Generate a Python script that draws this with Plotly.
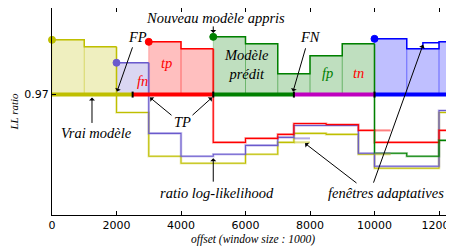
import plotly.graph_objects as go

OLIVE = '#bfbf00'; SLATE = '#6a5acd'; RED = '#ff0000'; GREEN = '#008000'
BLUE = '#0000ff'; MAGENTA = '#bf00bf'

baseline = 0.97
x_ticks = [0, 2000, 4000, 6000, 8000, 10000, 12000]
x_tick_labels = ["0", "2000", "4000", "6000", "8000", "10000", "12000"]
y_ticks = [0.97]
y_tick_labels = ["0.97"]

# windows where each model is predicted (above the baseline)
m1_top_edges = [0, 1000, 2000];                       m1_top_vals = [1.025, 1.018]
m2_top_edges = [2000, 3000];                          m2_top_vals = [1.002]
m3_top_edges = [3000, 4000, 5000];                    m3_top_vals = [1.023, 1.016]
m4_top_edges = [5000, 6000, 7000, 8000, 9000, 10000]; m4_top_vals = [1.028, 1.021, 0.991, 1.009, 1.021]
m5_top_edges = [10000, 11000, 12000, 12500];          m5_top_vals = [1.026, 1.016, 1.023]

# log-likelihood ratio once the model is no longer predicted
m1_low_edges = [2000, 3000, 4000, 6000, 7000, 7500, 8500, 9500, 10000, 12000, 12500]
m1_low_vals = [0.952, 0.908, 0.901, 0.910, 0.922, 0.931, 0.930, 0.910, 0.896, 0.952]
m2_low_edges = [3000, 4000, 5000, 6000, 7000, 7500, 9500, 10000, 12000, 12500]
m2_low_vals = [0.931, 0.908, 0.910, 0.919, 0.927, 0.939, 0.911, 0.898, 0.954]
m3_low_edges = [5000, 6000, 7000, 7500, 8500, 9500, 10000, 12000, 12500]
m3_low_vals = [0.922, 0.926, 0.930, 0.941, 0.940, 0.934, 0.922, 0.934]
m4_low_edges = [10000, 11000, 12000, 12500]
m4_low_vals = [0.911, 0.908, 0.924]

# adaptive windows (short segments)
adaptive_colors = [OLIVE, SLATE, SLATE, OLIVE, RED]
adaptive_start = [7500, 7500, 10000, 10000, 10000]
adaptive_end = [8000, 8000, 10500, 10500, 10500]
adaptive_vals = [0.922, 0.926, 0.911, 0.910, 0.934]
notch_edges = [11500, 12000]; notch_val = 1.022; notch_base = 1.016

# predicted segments on the baseline
seg_edges = [0, 2500, 5000, 7500, 10000, 12500]
seg_colors = [OLIVE, RED, GREEN, MAGENTA, BLUE]

models = [
    (OLIVE, m1_top_edges, m1_top_vals, m1_low_edges, m1_low_vals),
    (SLATE, m2_top_edges, m2_top_vals, m2_low_edges, m2_low_vals),
    (RED, m3_top_edges, m3_top_vals, m3_low_edges, m3_low_vals),
    (GREEN, m4_top_edges, m4_top_vals, m4_low_edges, m4_low_vals),
    (BLUE, m5_top_edges, m5_top_vals, [], []),
]


def rgba(hexc, a):
    h = hexc.lstrip('#')
    return 'rgba(%d,%d,%d,%s)' % (int(h[0:2], 16), int(h[2:4], 16), int(h[4:6], 16), a)


def step_xy(edges, vals):
    xs, ys = [], []
    for i, v in enumerate(vals):
        xs += [edges[i], edges[i + 1]]
        ys += [v, v]
    return xs, ys


fig = go.Figure()

# fills of predicted windows
for col, te, tv, le, lv in models:
    for i, v in enumerate(tv):
        x0, x1 = te[i], te[i + 1]
        fig.add_trace(go.Scatter(x=[x0, x0, x1, x1, x0], y=[baseline, v, v, baseline, baseline],
                                 mode='lines', fill='toself', fillcolor=rgba(col, 0.25),
                                 line=dict(color=rgba(col, 0.25), width=1), hoverinfo='skip'))

# notch (adaptive window in the current model)
fig.add_trace(go.Scatter(x=[notch_edges[0], notch_edges[0], notch_edges[1], notch_edges[1], notch_edges[0]],
                         y=[notch_base, notch_val, notch_val, notch_base, notch_base],
                         mode='lines', fill='toself', fillcolor='white',
                         line=dict(color='rgba(0,0,0,0)', width=0), hoverinfo='skip'))
fig.add_trace(go.Scatter(x=[notch_edges[0], notch_edges[0], notch_edges[1]],
                         y=[notch_base, notch_val, notch_val], mode='lines',
                         line=dict(color=BLUE, width=1.5), hoverinfo='skip'))

# lines
for col, te, tv, le, lv in models:
    edges = te + le[1:]
    vals = tv + lv
    xs, ys = step_xy(edges, vals)
    n_top = 2 * len(tv)
    if lv:
        fig.add_trace(go.Scatter(x=xs[n_top - 1:], y=ys[n_top - 1:], mode='lines',
                                 line=dict(color=rgba(col, 0.3), width=2.6), hoverinfo='skip'))
        fig.add_trace(go.Scatter(x=xs[n_top - 1:], y=ys[n_top - 1:], mode='lines',
                                 line=dict(color=col, width=1.1), hoverinfo='skip'))
    fig.add_trace(go.Scatter(x=xs[:n_top], y=ys[:n_top], mode='lines',
                             line=dict(color=col, width=1.5), hoverinfo='skip'))

for c, s, e, v in zip(adaptive_colors, adaptive_start, adaptive_end, adaptive_vals):
    fig.add_trace(go.Scatter(x=[s, e], y=[v, v], mode='lines',
                             line=dict(color=rgba(c, 0.5), width=2), hoverinfo='skip'))

# baseline coloured by predicted model
for i, c in enumerate(seg_colors):
    fig.add_trace(go.Scatter(x=[seg_edges[i], seg_edges[i + 1]], y=[baseline, baseline], mode='lines',
                             line=dict(color=c, width=4), hoverinfo='skip'))
for xb in seg_edges[1:-1]:
    fig.add_trace(go.Scatter(x=[xb, xb], y=[baseline - 0.003, baseline + 0.003], mode='lines',
                             line=dict(color='black', width=2), hoverinfo='skip'))

# markers where models are learnt
for col, te, tv, le, lv in models:
    fig.add_trace(go.Scatter(x=[te[0]], y=[tv[0]], mode='markers',
                             marker=dict(color=col, size=7, line=dict(color=col, width=1)),
                             hoverinfo='skip', cliponaxis=False))

SERIF = 'Liberation Serif'

texts = [
    ("<i>Nouveau modèle appris</i>", 5085, 1.047, 'black'),
    ("<i>FP</i>", 2636, 1.028, 'black'),
    ("<i>FN</i>", 8000, 1.028, 'black'),
    ("<i>Modèle<br>prédit</i>", 6016, 1.000, 'black'),
    ("<i>Vrai modèle</i>", 1395, 0.931, 'black'),
    ("<i>TP</i>", 4031, 0.942, 'black'),
    ("<i>ratio log-likelihood</i>", 5116, 0.871, 'black'),
    ("<i>fenêtres adaptatives</i>", 10357, 0.871, 'black'),
    ("<i>fn</i>", 2791, 0.984, RED),
    ("<i>tp</i>", 3535, 1.002, RED),
    ("<i>fp</i>", 8527, 0.992, GREEN),
    ("<i>tn</i>", 9519, 0.992, RED),
]
for t, x, y, c in texts:
    fig.add_annotation(x=x, y=y, text=t, showarrow=False,
                       font=dict(family=SERIF, size=14.5, color=c), xref='x', yref='y')

arrows = [
    (5000, 1.032, 5000, 1.040),
    (2016, 0.973, 2512, 1.019),
    (7473, 0.973, 7876, 1.018),
    (1240, 0.967, 1240, 0.940),
    (3039, 0.967, 3752, 0.948),
    (4961, 0.967, 4310, 0.948),
    (5000, 0.906, 5000, 0.881),
    (7845, 0.921, 9488, 0.880),
    (11504, 1.020, 9953, 0.880),
]
for x, y, ax, ay in arrows:
    fig.add_annotation(x=x, y=y, ax=ax, ay=ay, xref='x', yref='y', axref='x', ayref='y',
                       text='', showarrow=True, arrowhead=1, arrowsize=1, arrowwidth=1,
                       arrowcolor='black', standoff=0, startstandoff=0)

# page body keeps an 8px margin, so the figure is 8px smaller and the margins are reduced by 8px
fig.update_layout(
    width=446, height=238, margin=dict(l=44, r=0, t=0, b=31),
    plot_bgcolor='white', paper_bgcolor='white', showlegend=False,
    xaxis=dict(range=[0, 12465], tickvals=x_ticks, ticktext=x_tick_labels, automargin=False,
               ticklabeloverflow='allow',
               showline=True, linecolor='black', linewidth=1, mirror='ticks',
               ticks='inside', ticklen=4, tickcolor='black', showgrid=False, zeroline=False,
               tickfont=dict(family='DejaVu Sans', size=11, color='black'),
               title=dict(text='<i>offset (window size : 1000)</i>', standoff=3,
                          font=dict(family=SERIF, size=11.5, color='black'))),
    yaxis=dict(range=[0.849, 1.057], tickvals=y_ticks, ticktext=y_tick_labels, automargin=False,
               showline=True, linecolor='black', linewidth=1, mirror=False,
               ticks='inside', ticklen=4, tickcolor='black', showgrid=False, zeroline=False,
               tickfont=dict(family='DejaVu Sans', size=11, color='black'),
               title=dict(text='<i>LL ratio</i>', standoff=12,
                          font=dict(family=SERIF, size=11, color='black'))),
)

fig.write_html("out.html")
